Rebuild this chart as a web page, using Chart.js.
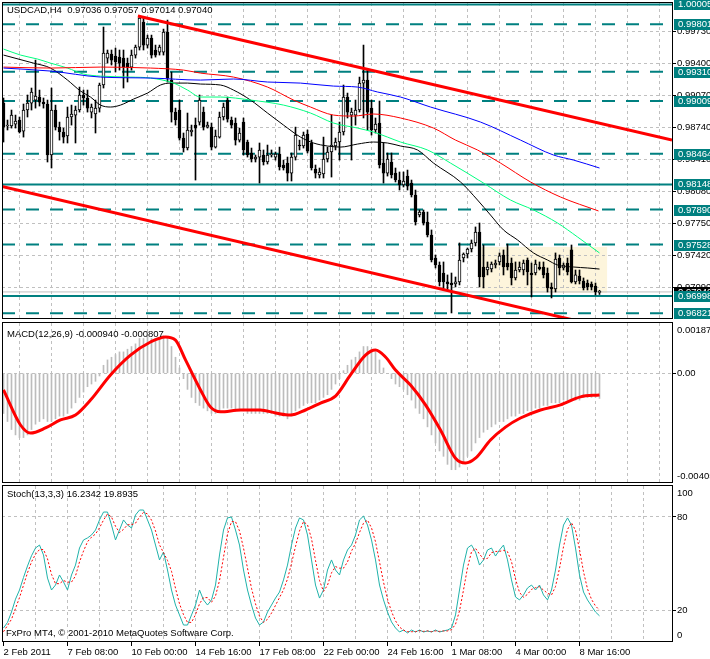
<!DOCTYPE html>
<html>
<head>
<meta charset="utf-8">
<script src="https://cdn.jsdelivr.net/npm/chart.js@4.4.1/dist/chart.umd.min.js"></script>
<style>
  html, body { margin: 0; padding: 0; background: #fff; }
  #wrap { position: relative; width: 710px; height: 659px; overflow: hidden; background: #fff; }
  canvas { position: absolute; left: 0; }
</style>
</head>
<body>
<div id="wrap">
  <canvas id="cMain" width="710" height="320" style="top:0px"></canvas>
  <canvas id="cMacd" width="710" height="164" style="top:320px"></canvas>
  <canvas id="cStoch" width="710" height="175" style="top:484px"></canvas>
</div>
<script>
// ---- USDCAD H4 candles (bar index 0..149) ----
const opens = [
  0.98988,0.98751,0.98751,0.98771,0.98813,0.98699,0.98916,0.98988,0.99019,0.99050,
  0.98998,0.98978,0.98452,0.98916,0.98740,0.98689,0.98648,0.98844,0.98864,0.98916,
  0.99071,0.99040,0.98895,0.98875,0.98936,0.99174,0.99452,0.99493,0.99473,0.99462,
  0.99452,0.99400,0.99359,0.99483,0.99565,0.99823,0.99586,0.99658,0.99535,0.99514,
  0.99514,0.99720,0.99225,0.98895,0.98916,0.98627,0.98524,0.98689,0.98761,0.98792,
  0.98895,0.98740,0.98740,0.98534,0.98637,0.98844,0.99019,0.98813,0.98782,0.98606,
  0.98792,0.98586,0.98473,0.98411,0.98431,0.98452,0.98380,0.98452,0.98431,0.98462,
  0.98349,0.98369,0.98266,0.98431,0.98555,0.98545,0.98668,0.98576,0.98308,0.98246,
  0.98256,0.98411,0.98483,0.98545,0.98586,0.98689,0.99050,0.98864,0.98864,0.98916,
  0.99194,0.99225,0.98936,0.98710,0.98782,0.98369,0.98266,0.98380,0.98266,0.98194,
  0.98143,0.98235,0.98163,0.98040,0.97833,0.97864,0.97761,0.97627,0.97390,0.97318,
  0.97235,0.97143,0.97132,0.97122,0.97143,0.97390,0.97431,0.97483,0.97545,0.97658,
  0.97297,0.97266,0.97276,0.97318,0.97349,0.97421,0.97338,0.97338,0.97184,0.97266,
  0.97266,0.97369,0.97235,0.97235,0.97297,0.97297,0.97235,0.97091,0.97070,0.97390,
  0.97287,0.97338,0.97473,0.97143,0.97204,0.97153,0.97132,0.97122,0.97101,0.97036
];
const highs = [
  0.99040,0.98813,0.98916,0.98864,0.98844,0.98978,0.99071,0.99143,0.99431,0.99122,
  0.99040,0.99019,0.99143,0.98967,0.98792,0.98730,0.98947,0.98967,0.98957,0.99153,
  0.99122,0.99122,0.98978,0.99019,0.99194,0.99772,0.99535,0.99535,0.99555,0.99535,
  0.99535,0.99452,0.99535,0.99586,0.99875,0.99864,0.99689,0.99689,0.99586,0.99586,
  0.99751,0.99844,0.99308,0.98936,0.99019,0.98679,0.98885,0.98761,0.98834,0.99071,
  0.98947,0.98792,0.98782,0.98710,0.98895,0.98988,0.99050,0.98844,0.98834,0.98730,
  0.98834,0.98606,0.98524,0.98452,0.98576,0.98504,0.98555,0.98504,0.98483,0.98534,
  0.98400,0.98431,0.98473,0.98740,0.98606,0.98689,0.98710,0.98606,0.98349,0.98318,
  0.98637,0.98534,0.98864,0.98627,0.98792,0.99174,0.99091,0.98936,0.99019,0.99256,
  0.99586,0.99328,0.99019,0.98834,0.99009,0.98576,0.98473,0.98473,0.98318,0.98277,
  0.98277,0.98297,0.98194,0.98091,0.97885,0.97885,0.97864,0.97679,0.97421,0.97349,
  0.97349,0.97215,0.97235,0.97194,0.97545,0.97442,0.97493,0.97576,0.97710,0.97751,
  0.97524,0.97349,0.97349,0.97369,0.97442,0.97473,0.97534,0.97390,0.97349,0.97349,
  0.97369,0.97390,0.97338,0.97369,0.97349,0.97349,0.97287,0.97132,0.97442,0.97421,
  0.97338,0.97390,0.97524,0.97266,0.97266,0.97184,0.97163,0.97143,0.97132,0.97057
];
const lows = [
  0.98586,0.98710,0.98730,0.98730,0.98679,0.98637,0.98844,0.98916,0.98936,0.98957,
  0.98936,0.98380,0.98318,0.98710,0.98606,0.98576,0.98576,0.98761,0.98576,0.98895,
  0.98967,0.98895,0.98834,0.98679,0.98895,0.99143,0.99400,0.99380,0.99308,0.99328,
  0.99143,0.99205,0.99328,0.99452,0.99535,0.99535,0.99555,0.99452,0.99462,0.99483,
  0.99483,0.99205,0.98792,0.98761,0.98606,0.98483,0.98504,0.98648,0.98194,0.98761,
  0.98710,0.98730,0.98504,0.98524,0.98627,0.98813,0.98792,0.98730,0.98555,0.98586,
  0.98452,0.98431,0.98380,0.98380,0.98163,0.98349,0.98359,0.98431,0.98400,0.98297,
  0.98297,0.98184,0.98184,0.98400,0.98504,0.98524,0.98473,0.98297,0.98215,0.98215,
  0.98215,0.98380,0.98225,0.98504,0.98400,0.98658,0.98834,0.98400,0.98761,0.98895,
  0.98834,0.98710,0.98658,0.98679,0.98318,0.98163,0.98235,0.98215,0.98174,0.98091,
  0.98122,0.98091,0.98019,0.97730,0.97813,0.97730,0.97607,0.97349,0.97287,0.97101,
  0.97060,0.97060,0.96823,0.97091,0.97112,0.97349,0.97390,0.97452,0.97514,0.97091,
  0.97081,0.97215,0.97246,0.97287,0.97318,0.97215,0.97266,0.97112,0.97163,0.97246,
  0.97215,0.97112,0.96988,0.97215,0.97266,0.97184,0.97039,0.96978,0.97039,0.97215,
  0.97266,0.97215,0.97132,0.97122,0.97122,0.97060,0.97060,0.97060,0.97009,0.97014
];
const closes = [
  0.98740,0.98761,0.98864,0.98802,0.98689,0.98916,0.98988,0.99102,0.99060,0.98998,
  0.98978,0.98452,0.98916,0.98740,0.98689,0.98637,0.98844,0.98875,0.98916,0.99071,
  0.99040,0.98936,0.98947,0.98936,0.99174,0.99504,0.99504,0.99431,0.99411,0.99400,
  0.99359,0.99359,0.99483,0.99565,0.99864,0.99586,0.99658,0.99483,0.99483,0.99565,
  0.99720,0.99246,0.98895,0.98813,0.98627,0.98524,0.98710,0.98710,0.98730,0.99019,
  0.98740,0.98761,0.98534,0.98648,0.98844,0.98947,0.98823,0.98761,0.98606,0.98679,
  0.98504,0.98452,0.98411,0.98431,0.98504,0.98380,0.98452,0.98462,0.98462,0.98328,
  0.98318,0.98266,0.98431,0.98658,0.98545,0.98658,0.98493,0.98318,0.98266,0.98277,
  0.98411,0.98483,0.98555,0.98586,0.98689,0.99050,0.98895,0.98895,0.98916,0.99194,
  0.99225,0.98895,0.98710,0.98771,0.98349,0.98266,0.98411,0.98246,0.98194,0.98143,
  0.98184,0.98132,0.98040,0.97761,0.97864,0.97751,0.97627,0.97369,0.97318,0.97143,
  0.97143,0.97122,0.97112,0.97143,0.97369,0.97431,0.97483,0.97545,0.97658,0.97194,
  0.97194,0.97297,0.97328,0.97338,0.97411,0.97297,0.97297,0.97184,0.97266,0.97297,
  0.97338,0.97246,0.97215,0.97328,0.97276,0.97215,0.97081,0.97070,0.97380,0.97287,
  0.97318,0.97246,0.97143,0.97215,0.97153,0.97081,0.97091,0.97091,0.97039,0.97040
];

// moving averages, read at a few bar positions
const maBlackBars = [0,7.5,11.75,16,19.25,21.75,24.25,26.75,29.25,32.5,36,39.25,41.75,46,49.25,54.25,57.5,61.75,66,70,74.25,77.5,81,84.25,88.5,92.5,96,99.25,103.5,107.5,114.25,118.5,121.75,125,128.5,132.5,136,138.5,142.5,146,149];
const maBlack = [0.99483,0.99400,0.99349,0.99225,0.99112,0.99050,0.98967,0.98947,0.98967,0.99029,0.99091,0.99174,0.99194,0.99194,0.99184,0.99174,0.99122,0.99019,0.98885,0.98761,0.98637,0.98576,0.98545,0.98534,0.98565,0.98586,0.98576,0.98545,0.98504,0.98369,0.98174,0.97988,0.97833,0.97679,0.97576,0.97442,0.97369,0.97318,0.97297,0.97287,0.97276];
const maGreenBars = [0,4.25,8.5,11.75,16,20,24.25,31.75,36.75,42.5,46,49.25,54.25,61.75,70,76.75,82.5,88.5,92.5,96,99.25,106,111.75,120,126.75,132.5,138.5,143.5,149];
const maGreen = [0.99545,0.99483,0.99442,0.99400,0.99349,0.99287,0.99266,0.99256,0.99246,0.99194,0.99122,0.99050,0.99050,0.99019,0.98967,0.98885,0.98782,0.98730,0.98689,0.98637,0.98586,0.98504,0.98369,0.98163,0.97988,0.97885,0.97751,0.97607,0.97442];
const maRedBars = [0,11.75,24.25,36.75,45,49.25,57.5,66,72.5,76.75,82.5,87.5,92.5,99.25,107.5,113,118.5,124.25,131.75,139.25,148.75];
const maRed = [0.99359,0.99349,0.99359,0.99349,0.99328,0.99297,0.99256,0.99153,0.99019,0.98947,0.98864,0.98854,0.98875,0.98834,0.98730,0.98606,0.98504,0.98369,0.98174,0.98019,0.97875];
const maBlueBars = [0,11.75,24.25,36.75,49.25,57.5,66,74.25,82.5,88.5,93.5,99.25,106.75,119.25,129.25,137.5,142.5,149];
const maBlue = [0.99349,0.99318,0.99256,0.99246,0.99225,0.99236,0.99205,0.99194,0.99163,0.99153,0.99102,0.99050,0.98947,0.98792,0.98606,0.98452,0.98400,0.98318];

// trend lines (two anchors each)
const trendUpperBars = [33.6, 167.125];
const trendUpper = [0.99886, 0.98607];
const trendLowerBars = [-0.375, 167.125];
const trendLower = [0.98127, 0.96513];

// horizontal levels
const levelPrices = [1.00005, 0.99801, 0.99310, 0.99009, 0.98464, 0.98148, 0.97890, 0.97528, 0.96998, 0.96821];
const levelSolid  = [true, false, false, false, false, true, false, false, true, false];
const bidPrice = 0.97040;

// shaded box
const boxBars = [119.1, 150.9];
const boxPrices = [0.97503, 0.97029];

// price axis grid
const priceGrid = [0.99730, 0.99400, 0.99070, 0.98740, 0.98410, 0.98080, 0.97750, 0.97420, 0.97090];

// MACD(12,26,9)
const macdMain = [
  -0.0015,-0.0018,-0.0021,-0.0023,-0.0024,-0.0024,-0.0023,-0.0021,-0.0019,-0.0018,
  -0.0017,-0.0018,-0.0018,-0.0017,-0.0016,-0.0016,-0.0015,-0.0013,-0.0011,-0.0009,
  -0.0007,-0.0005,-0.0004,-0.0003,-0.0001,0.0003,0.0005,0.0006,0.0007,0.0008,
  0.0008,0.0009,0.0010,0.0011,0.0013,0.0013,0.0014,0.0013,0.0013,0.0013,
  0.0014,0.0013,0.0010,0.0006,0.0002,-0.0002,-0.0006,-0.0009,-0.0011,-0.0012,
  -0.0013,-0.0014,-0.0015,-0.0015,-0.0014,-0.0013,-0.0013,-0.0013,-0.0014,-0.0014,
  -0.0014,-0.0015,-0.0015,-0.0015,-0.0015,-0.0015,-0.0015,-0.0015,-0.0016,-0.0016,
  -0.0016,-0.0017,-0.0016,-0.0014,-0.0013,-0.0012,-0.0011,-0.0011,-0.0011,-0.0010,
  -0.0009,-0.0008,-0.0006,-0.0004,-0.0002,0.0001,0.0003,0.0005,0.0006,0.0008,
  0.0010,0.0010,0.0009,0.0008,0.0005,0.0002,0.0000,-0.0002,-0.0004,-0.0005,
  -0.0006,-0.0008,-0.0010,-0.0013,-0.0015,-0.0017,-0.0020,-0.0023,-0.0026,-0.0029,
  -0.0031,-0.0034,-0.0036,-0.0036,-0.0035,-0.0033,-0.0031,-0.0029,-0.0026,-0.0024,
  -0.0022,-0.0021,-0.0020,-0.0019,-0.0018,-0.0018,-0.0017,-0.0016,-0.0016,-0.0015,
  -0.0015,-0.0014,-0.0014,-0.0013,-0.0013,-0.0012,-0.0012,-0.0011,-0.0011,-0.0011,
  -0.0010,-0.0010,-0.0010,-0.0010,-0.0010,-0.0009,-0.0009,-0.0009,-0.0009,-0.00094
];
const macdSignalBars = [0,4.25,6.75,10.5,14.25,18,21.75,26.75,31.75,36.75,40.5,43,45.5,49.25,51.75,54.25,59.25,64.25,68,71.75,75.5,79.25,83,86.75,90.5,93,95.5,98,101.75,105.5,109.25,113,115.5,118,121.75,125.5,129.25,134.25,139.25,144.25,149];
const macdSignal = [-0.00062,-0.00193,-0.00223,-0.00204,-0.00174,-0.00156,-0.00100,-0.00006,0.00068,0.00117,0.00136,0.00124,0.00050,-0.00062,-0.00126,-0.00144,-0.00137,-0.00137,-0.00148,-0.00156,-0.00137,-0.00111,-0.00085,-0.00006,0.00068,0.00087,0.00061,0.00012,-0.00044,-0.00118,-0.00212,-0.00317,-0.00335,-0.00317,-0.00249,-0.00201,-0.00167,-0.00137,-0.00118,-0.00088,-0.000807];

// Stochastic(13,3,3)
const stochMain = [
  8.4,12,18.7,27,32.9,41,48.4,55,60.0,61.9,
  55.5,40.6,32.9,36.1,42.6,38.1,32.9,42.6,49.0,60.0,
  65.2,66.5,68.4,71.6,78.1,83.2,83.2,74.8,65.2,71.6,
  78.1,74.8,72.9,81.3,84.5,84.5,78.1,71.6,61.9,52.3,
  57.4,45.8,32.9,23.2,16.8,10.3,10.3,16.8,23.2,32.9,
  26.5,23.2,26.5,36.1,55.5,71.6,79.4,80.0,71.6,61.9,
  45.8,32.9,23.2,14.8,10.3,12.3,18.7,23.2,27.7,31.6,
  39.4,49.0,61.9,72.9,79.4,78.1,68.4,52.3,36.1,27.7,
  32.9,45.8,52.3,45.8,42.6,52.3,58.7,61.9,68.4,78.1,
  80.6,74.8,65.2,52.3,36.1,26.5,18.7,12.3,8.4,5.8,
  7.1,5.2,7.1,5.8,7.1,5.8,6.5,5.8,7.1,5.8,
  6.5,7.1,8.4,16.8,32.9,49.0,60.0,61.9,57.4,49.0,
  52.3,58.7,60.0,54.8,58.7,61.9,52.3,39.4,28.4,26.5,
  29.7,34.2,36.1,32.9,36.1,29.7,26.5,32.9,45.8,61.9,
  74.8,79.4,74.8,60.0,42.6,31.6,26.5,22.6,18.7,16.2342
];
const stochSignal = [
  6,10,14,21,28,36,44,51,56,59,
  59,53,43,37,37,39,38,38,42,51,
  58,64,67,69,73,78,82,80,74,70,
  72,75,75,76,80,83,82,78,71,62,
  57,52,45,34,24,17,12,12,17,24,
  28,28,25,29,39,54,69,77,77,71,
  60,47,34,24,16,12,14,18,23,28,
  33,40,50,61,71,77,75,66,52,39,
  32,36,44,48,47,47,51,58,63,70,
  76,78,73,64,51,38,27,19,13,9,
  7,6,6,6,6.7,6.2,6.5,6.0,6.5,6.2,
  6.5,6.5,7.3,10.8,19.4,32.9,47.3,57.6,59.8,56.1,
  52.9,53.3,57.0,57.8,57.8,58.5,57.6,51.2,40.0,31.4,
  28.2,30.1,33.3,34.4,35.0,32.9,30.8,29.7,35.1,46.9,
  60.8,72.0,76.3,71.4,59.1,44.7,33.6,26.9,22.6,19.8935
];

// time axis
const gridBars = [0,8,16,24,32,40,48,56,64,72,80,88,96,104,112,120,128,136,144,152,160];
const dateBars = [0,16,32,48,64,80,96,112,128,144];
const dateLabels = ['2 Feb 2011','7 Feb 08:00','10 Feb 00:00','14 Feb 16:00','17 Feb 08:00','22 Feb 00:00','24 Feb 16:00','1 Mar 08:00','4 Mar 00:00','8 Mar 16:00'];

const X_MIN = -0.375, X_MAX = 167.125;
const MAIN_MIN = 0.96771, MAIN_MAX = 1.00020;
const TEAL = '#008080';
const FAM = '"Liberation Sans", Arial, sans-serif';
const FONT = '9.5px ' + FAM;

Chart.defaults.font.family = FAM;
Chart.defaults.font.size = 9.5;
Chart.defaults.color = '#000';

const pts = (xs, ys) => xs.map((x, i) => ({ x, y: ys[i] }));
const series = ys => ys.map((y, i) => ({ x: i, y }));

function xAxis(withLabels) {
  return {
    type: 'linear', min: X_MIN, max: X_MAX, offset: false,
    afterBuildTicks: s => { s.ticks = gridBars.map(v => ({ value: v })); },
    afterFit: s => { s.height = withLabels ? 18 : 0; },
    grid: {
      color: c => (c.tick && c.tick.value === 0) ? 'rgba(0,0,0,0)' : '#c0c0c0',
      drawTicks: withLabels, tickLength: 5, tickBorderDash: [],
      tickColor: c => (c.tick && dateBars.includes(c.tick.value)) ? '#000' : 'rgba(0,0,0,0)'
    },
    border: { display: false, dash: [3, 3] },
    ticks: {
      display: withLabels, autoSkip: false, maxRotation: 0, minRotation: 0, align: 'start', padding: 1,
      font: { size: 9.5 }, color: '#000',
      callback: v => { const k = dateBars.indexOf(v); return k < 0 ? '' : dateLabels[k]; }
    }
  };
}

function yAxis(min, max, vals) {
  return {
    type: 'linear', position: 'right', min, max,
    afterBuildTicks: s => { s.ticks = vals.map(v => ({ value: v })); },
    afterFit: s => { s.width = 38; },
    grid: { color: '#c0c0c0', drawTicks: true, tickLength: 4, tickColor: '#000', tickBorderDash: [] },
    border: { display: false, dash: [3, 3] },
    ticks: { display: false }
  };
}

function panel(cfg) {
  return {
    id: 'panel_' + cfg.name,
    beforeDraw(chart) { if (cfg.under) cfg.under(chart); },
    afterDraw(chart) {
      const ctx = chart.ctx, a = chart.chartArea, ys = chart.scales.y;
      ctx.save();
      ctx.strokeStyle = '#000';
      ctx.lineWidth = 1;
      ctx.strokeRect(a.left + 0.5, a.top - 0.5, a.right - a.left, a.bottom - a.top + 1);
      ctx.font = FONT;
      ctx.textBaseline = 'middle';
      ctx.textAlign = 'left';
      ctx.fillStyle = '#000';
      cfg.axisLabels.forEach(l => {
        let y = ys.getPixelForValue(l.value);
        y = Math.min(Math.max(y, a.top + 7), a.bottom - 6);
        ctx.fillText(l.text, a.right + 5, y);
      });
      if (cfg.over) cfg.over(chart);
      ctx.fillStyle = '#000';
      ctx.font = FONT;
      cfg.titles.forEach(t => ctx.fillText(t.text, t.x, t.y));
      ctx.restore();
    }
  };
}

const line = (data, color, width, order, extra) => Object.assign({
  type: 'line', data, borderColor: color, borderWidth: width, pointRadius: 0,
  fill: false, order, cubicInterpolationMode: 'monotone'
}, extra || {});

const baseOpts = (padding, scales) => ({
  responsive: false, animation: false, events: [],
  layout: { padding },
  plugins: { legend: { display: false }, tooltip: { enabled: false } },
  scales
});

// ---- main price panel ----
const mainSets = [
  line(pts(trendUpperBars, trendUpper), '#ff0000', 3, 0, { clip: 0, cubicInterpolationMode: 'default' }),
  line(pts(trendLowerBars, trendLower), '#ff0000', 3, 0, { clip: 0, cubicInterpolationMode: 'default' }),
  line(pts(maBlueBars, maBlue), '#0000ff', 1, 1),
  line(pts(maRedBars, maRed), '#ff0000', 1, 1),
  line(pts(maGreenBars, maGreen), '#00ff7f', 1, 1),
  line(pts(maBlackBars, maBlack), '#000000', 1, 1),
  {
    type: 'bar', order: 2, grouped: false,
    data: opens.map((o, i) => ({ x: i, y: [o, closes[i]] })),
    backgroundColor: opens.map((o, i) => closes[i] >= o ? '#ffffff' : '#000000'),
    borderColor: '#000', borderWidth: 1, borderSkipped: false, barThickness: 3, minBarLength: 1
  },
  {
    type: 'bar', order: 3, grouped: false,
    data: lows.map((l, i) => ({ x: i, y: [l, highs[i]] })),
    backgroundColor: '#000', borderWidth: 0, barThickness: 1
  },
  line(pts([X_MIN, X_MAX], [bidPrice, bidPrice]), '#c0c0c0', 1, 5, { cubicInterpolationMode: 'default' })
];
levelPrices.forEach((p, k) => {
  mainSets.push(line(pts([X_MIN, X_MAX], [p, p]), TEAL, 2, 4,
    { borderDash: levelSolid[k] ? [] : [13, 11], cubicInterpolationMode: 'default' }));
});

new Chart(document.getElementById('cMain'), {
  type: 'bar',
  data: { datasets: mainSets },
  options: baseOpts({ left: 2, right: 0, top: 3, bottom: 2 }, { x: xAxis(false), y: yAxis(MAIN_MIN, MAIN_MAX, priceGrid) }),
  plugins: [panel({
    name: 'main',
    axisLabels: priceGrid.map(v => ({ value: v, text: v.toFixed(5) })),
    titles: [{ text: 'USDCAD,H4  0.97036 0.97057 0.97014 0.97040', x: 7, y: 10.5 }],
    under(chart) {
      const { ctx, scales: { x, y } } = chart;
      const l = x.getPixelForValue(boxBars[0]), r = x.getPixelForValue(boxBars[1]);
      const t = y.getPixelForValue(boxPrices[0]), b = y.getPixelForValue(boxPrices[1]);
      ctx.save();
      ctx.fillStyle = '#fdf5dc';
      ctx.fillRect(l, t, r - l, b - t);
      ctx.restore();
    },
    over(chart) {
      const ctx = chart.ctx, a = chart.chartArea, ys = chart.scales.y;
      let yb = Math.round(ys.getPixelForValue(bidPrice));
      ctx.fillStyle = '#000';
      ctx.fillRect(a.right + 2, yb - 5, 40, 11);
      ctx.fillStyle = '#fff';
      ctx.fillText(bidPrice.toFixed(5), a.right + 6, yb + 0.5);
      levelPrices.forEach(p => {
        const y = Math.round(ys.getPixelForValue(p));
        ctx.fillStyle = TEAL;
        ctx.fillRect(a.right + 2, y - 5, 40, 11);
        ctx.fillStyle = '#fff';
        ctx.fillText(p.toFixed(5), a.right + 6, y + 0.5);
      });
    }
  })]
});

// ---- MACD panel ----
new Chart(document.getElementById('cMacd'), {
  type: 'bar',
  data: {
    datasets: [
      line(pts(macdSignalBars, macdSignal), '#ff0000', 3, 0),
      { type: 'bar', order: 1, grouped: false, data: series(macdMain), backgroundColor: '#bcbcbc', borderWidth: 0, barThickness: 1 }
    ]
  },
  options: baseOpts({ left: 2, right: 0, top: 3, bottom: 2 }, { x: xAxis(false), y: yAxis(-0.004059, 0.001879, [0]) }),
  plugins: [panel({
    name: 'macd',
    axisLabels: [{ value: 0.001879, text: '0.001879' }, { value: 0, text: '0.00' }, { value: -0.004059, text: '-0.004059' }],
    titles: [{ text: 'MACD(12,26,9) -0.000940 -0.000807', x: 7, y: 14 }]
  })]
});

// ---- Stochastic panel ----
new Chart(document.getElementById('cStoch'), {
  type: 'line',
  data: {
    datasets: [
      line(series(stochSignal), '#ff0000', 1, 0, { borderDash: [2, 2], cubicInterpolationMode: 'default' }),
      line(series(stochMain), '#20b2aa', 1, 1, { cubicInterpolationMode: 'default' })
    ]
  },
  options: baseOpts({ left: 2, right: 0, top: 2, bottom: 0 }, { x: xAxis(true), y: yAxis(0, 100, [20, 80]) }),
  plugins: [panel({
    name: 'stoch',
    axisLabels: [{ value: 100, text: '100' }, { value: 80, text: '80' }, { value: 20, text: '20' }, { value: 0, text: '0' }],
    titles: [
      { text: 'Stoch(13,3,3) 16.2342 19.8935', x: 7, y: 10.5 },
      { text: 'FxPro MT4, \u00a9 2001-2010 MetaQuotes Software Corp.', x: 6, y: 149 }
    ]
  })]
});
</script>
</body>
</html>
